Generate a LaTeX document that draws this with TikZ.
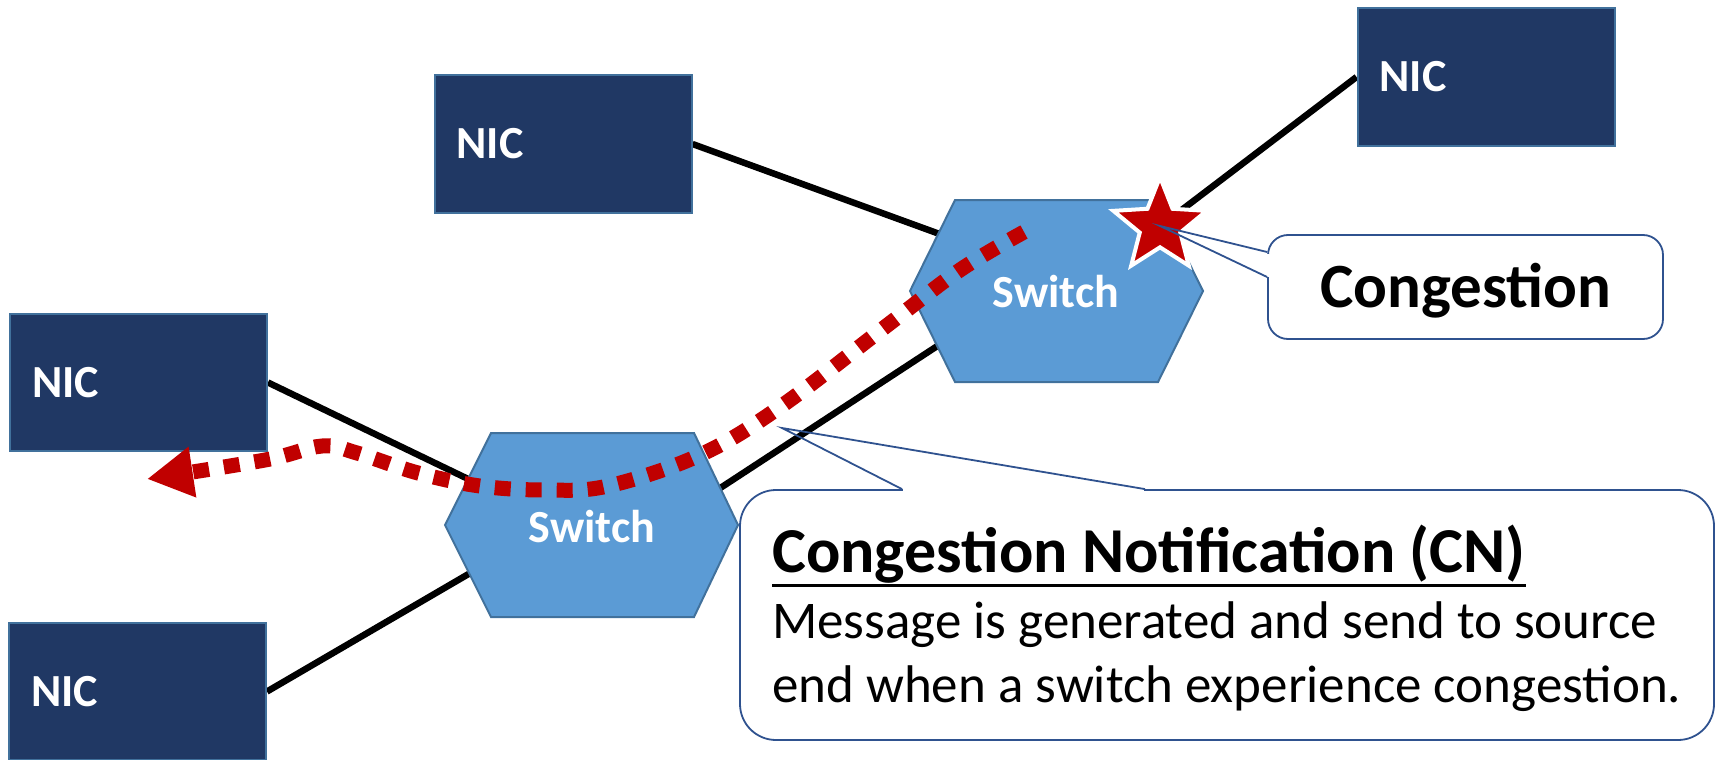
\documentclass[tikz,border=0pt]{standalone}
\usepackage{fontspec}
\setmainfont{Carlito}
\usetikzlibrary{shapes.geometric,arrows.meta,calc}
\definecolor{nicfill}{HTML}{203864}
\definecolor{nicedge}{HTML}{41719C}
\definecolor{swfill}{HTML}{5B9BD5}
\definecolor{swedge}{HTML}{41719C}
\definecolor{cnred}{HTML}{C00000}
\definecolor{calloutedge}{HTML}{2F528F}
\pgfdeclarelayer{links}
\pgfsetlayers{links,main}
\begin{document}
\begin{tikzpicture}[x=1pt,y=-1pt,
  nicbox/.style={draw=nicedge, line width=2pt, fill=nicfill, text=white,
    minimum height=137pt, text width=213pt, inner xsep=22pt, inner ysep=0pt,
    align=left, font=\fontsize{46}{50}\selectfont\bfseries},
  swshape/.style={fill=swfill, draw=swedge, line width=2pt, line join=miter},
  swlabel/.style={text=white, inner sep=0pt, font=\fontsize{46}{50}\selectfont\bfseries},
  link/.style={line width=6.5pt, black},
  cnpath/.style={cnred, line width=15pt, dash pattern=on 16pt off 15pt,
    -{Triangle[length=46pt,width=48pt]}},
  calloutbox/.style={draw=calloutedge, line width=1.8pt, fill=white, inner sep=0pt},
  calloutline/.style={draw=calloutedge, line width=1.8pt, line join=miter},
  congstar/.style={star, star points=5, star point ratio=2.3, minimum size=98pt,
    inner sep=0pt, fill=cnred, draw=white, line width=4pt},
  cntext/.style={anchor=base west, inner sep=0pt, font=\fontsize{53}{64}\selectfont}
]
\useasboundingbox (0,0) rectangle (1719,760);

% network interface cards
\node[nicbox] (nicA) at (563,144) {NIC};
\node[nicbox] (nicB) at (1486,77) {NIC};
\node[nicbox] (nicC) at (138.5,382.5) {NIC};
\node[nicbox] (nicD) at (137.5,691.5) {NIC};

% switch hexagons with their labels
\path[swshape] (910,291) -- (955,200) -- (1158,200) -- (1203,291) -- (1158,382) -- (955,382) -- cycle;
\node[swlabel] (sw1) at (1056,292) {Switch};
\path[swshape] (445,525) -- (491,433) -- (694,433) -- (738,525) -- (694,617) -- (491,617) -- cycle;
\node[swlabel] (sw2) at (592,527) {Switch};

% cables, kept underneath the devices
\begin{pgfonlayer}{links}
  \draw[link] (nicA.east) -- ($(sw1.center)+(-56,-36)$);
  \draw[link] (nicB.west) -- ($(sw1.center)+(94,-58)$);
  \draw[link] (nicC.east) -- ($(sw2.center)+(-72,-23)$);
  \draw[link] (nicD.east) -- ($(sw2.center)+(-72,17)$);
  \draw[link] ($(sw2.center)+(58,7)$) -- ($(sw1.center)+(-56,13)$);
\end{pgfonlayer}

% notification travelling back to the source
\coordinate (cnstart) at ($(sw1.center)+(-32,-60)$);
\coordinate (cnend) at (147,479);
\draw[cnpath] plot[smooth, tension=0.6] coordinates {(cnstart) (960,270) (885,327) (780,407)
  (700,455) (608,486) (545,490) (480,486) (418,473) (357,453) (322,446) (265,460) (cnend)};

% congestion point
\node[congstar] (cong) at (1160,226) {};

% "Congestion" callout
\node[calloutbox, minimum width=395pt, minimum height=104pt, rounded corners=20pt,
  text height=40pt, text depth=0pt, font=\fontsize{63}{70}\selectfont\bfseries]
  (congbox) at (1465.5,287) {Congestion};
\fill[white] ($(congbox.west)+(-2,-33)$) rectangle ($(congbox.west)+(2,-10)$);
\draw[calloutline] ($(congbox.west)+(0,-35)$) -- (cong.center) -- ($(congbox.west)+(0,-10)$);

% CN callout
\coordinate (cntip) at (782,428);
\node[calloutbox, minimum width=974pt, minimum height=250pt, rounded corners=36pt]
  (cnbox) at (1227,615) {};
\fill[white] ($(cnbox.north)+(-324,-2)$) rectangle ($(cnbox.north)+(-83,2)$);
\draw[calloutline] ($(cnbox.north)+(-325,0)$) -- (cntip) -- ($(cnbox.north)+(-82,0)$);

\node[cntext, font=\fontsize{64}{70}\selectfont\bfseries] (cnhead) at (772,572)
  {Congestion Notification (CN)};
\draw[line width=3pt] ($(cnhead.base west)+(0,13)$) -- ($(cnhead.base east)+(0,13)$);
\node[cntext] (cnline1) at (772,638) {Message is generated and send to source};
\node[cntext] (cnline2) at (772,702) {end when a switch experience congestion.};
\end{tikzpicture}
\end{document}
